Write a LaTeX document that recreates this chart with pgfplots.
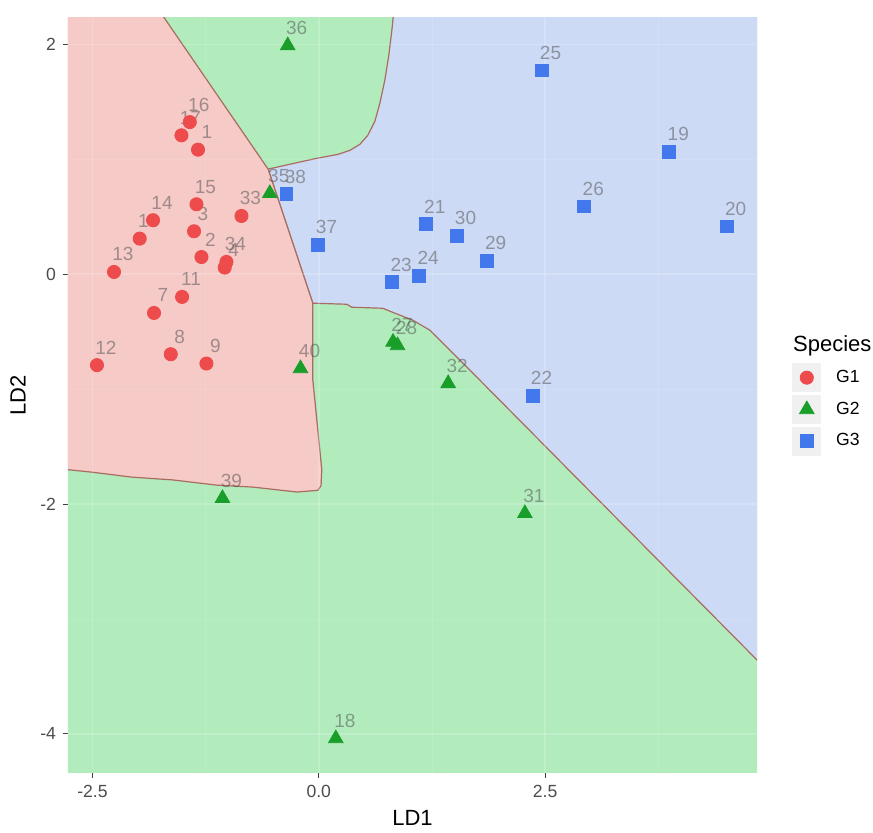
\documentclass[border=0pt]{standalone}
\usepackage{pgfplots}
\pgfplotsset{compat=1.18}
\usepackage{pgfplotstable}
\usepackage{fontspec}
\setmainfont{Liberation Sans}

\definecolor{rgred}{RGB}{245,202,199}
\definecolor{rggreen}{RGB}{178,236,189}
\definecolor{rgblue}{RGB}{205,218,245}
\definecolor{bnd}{RGB}{168,108,96}
\definecolor{ptred}{RGB}{238,76,76}
\definecolor{ptgreen}{RGB}{25,158,42}
\definecolor{ptblue}{RGB}{66,120,235}

\pgfplotstableread{
x y lab
-1.425 1.324 16
-1.517 1.209 17
-1.334 1.084 1
-1.351 0.609 15
-1.831 0.470 14
-1.978 0.310 10
-1.378 0.374 3
-1.296 0.150 2
-1.020 0.107 34
-1.039 0.058 4
-0.854 0.507 33
-2.262 0.020 13
-1.510 -0.197 11
-1.820 -0.337 7
-1.635 -0.696 8
-1.241 -0.777 9
-2.450 -0.791 12
}\gone

\pgfplotstableread{
x y lab
-0.343 1.99 36
-0.541 0.704 35
-0.202 -0.820 40
0.82 -0.59 27
0.87 -0.62 28
1.429 -0.950 32
2.276 -2.081 31
-1.064 -1.950 39
0.188 -4.04 18
}\gtwo

\pgfplotstableread{
x y lab
2.460 1.774 25
3.871 1.064 19
2.932 0.591 26
4.505 0.417 20
1.182 0.435 21
1.521 0.333 30
1.853 0.116 29
1.109 -0.011 24
0.810 -0.070 23
-0.357 0.696 38
-0.014 0.258 37
2.361 -1.058 22
}\gthree

\begin{document}
\begin{tikzpicture}
\begin{axis}[
  name=ax,
  scale only axis, width=344.5pt, height=377.5pt,
  xmin=-2.77, xmax=4.84, ymin=-4.34, ymax=2.23,
  xtick={-2.5,0,2.5}, xticklabels={-2.5,0.0,2.5},
  ytick={-4,-2,0,2}, yticklabels={-4,-2,0,2},
  xtick pos=left, ytick pos=left,
  tick align=outside, major tick length=2.5pt,
  tick style={color=black!75, line width=0.5pt},
  axis line style={draw=none},
  ticklabel style={font=\fontsize{8.8}{10}\selectfont, text=black!70},
  xlabel={LD1}, ylabel={LD2},
  label style={font=\fontsize{11}{13}\selectfont},
  xlabel style={at={(axis description cs:0.5,-0.0596)}, anchor=center},
  ylabel style={at={(axis description cs:-0.0726,0.5)}, anchor=center},
  legend style={at={(axis description cs:1,0.5)}, anchor=west, xshift=17.5pt,
    draw=none, fill=none, inner sep=0pt, row sep=1.5pt,
    font=\fontsize{8.8}{10}\selectfont,
    nodes={inner sep=0pt, text=black},
    /tikz/every odd column/.append style={column sep=7.5pt}},
  legend cell align=left,
  legend image code/.code={\fill[black!6] (0pt,-7pt) rectangle (14pt,7pt);
    \draw[#1] plot coordinates {(7pt,0pt)};},
]
% background (lower/upper G2 region)
\addplot[fill=rggreen, draw=none, forget plot] coordinates {(-3,-5) (5,-5) (5,3) (-3,3)} -- cycle;
% G3 region
\addplot[fill=rgblue, draw=bnd, line width=0.6pt, forget plot] coordinates {
(5,2.4) (0.84,2.4) (0.829,2.296) (0.807,2.122) (0.773,1.904) (0.729,1.687) (0.674,1.487)
(0.619,1.330) (0.541,1.209) (0.453,1.130) (0.343,1.078) (0.210,1.043) (-0.022,1.009)
(-0.320,0.957) (-0.56,0.915) (-0.066,-0.252)
(0.309,-0.261) (0.365,-0.287) (0.707,-0.296) (0.840,-0.339) (1.039,-0.4) (1.227,-0.487)
(1.779,-0.922) (5,-3.484)} -- cycle;
% G1 region
\addplot[fill=rgred, draw=bnd, line width=0.6pt, forget plot] coordinates {
(-2.9,2.4) (-1.854,2.4) (-0.56,0.915) (-0.066,-0.252) (-0.066,-0.92) (0.033,-1.70)
(0.025,-1.84) (-0.01,-1.88) (-0.24,-1.895) (-0.73,-1.852) (-1.13,-1.835) (-1.61,-1.79)
(-2.07,-1.765) (-2.51,-1.722) (-2.9,-1.69)} -- cycle;
% faint grid
\pgfplotsinvokeforeach{-2.5,0,2.5}{\addplot[white, opacity=0.18, line width=0.8pt, forget plot] coordinates {(#1,-5) (#1,3)};}
\pgfplotsinvokeforeach{-1.25,1.25,3.75}{\addplot[white, opacity=0.1, line width=0.4pt, forget plot] coordinates {(#1,-5) (#1,3)};}
\pgfplotsinvokeforeach{-4,-2,0,2}{\addplot[white, opacity=0.18, line width=0.8pt, forget plot] coordinates {(-3,#1) (5,#1)};}
\pgfplotsinvokeforeach{-3,-1,1}{\addplot[white, opacity=0.1, line width=0.4pt, forget plot] coordinates {(-3,#1) (5,#1)};}
% labels
\pgfplotsset{lblstyle/.style={only marks, mark=none, forget plot, point meta=explicit symbolic,
  nodes near coords, every node near coord/.append style={anchor=center, xshift=4.5pt, yshift=8.8pt,
  font=\fontsize{9.5}{10}\selectfont, text=black!70, text opacity=0.5}}}
\addplot[lblstyle] table[x=x, y=y, meta=lab] {\gone};
\addplot[lblstyle] table[x=x, y=y, meta=lab] {\gtwo};
\addplot[lblstyle] table[x=x, y=y, meta=lab] {\gthree};
% legend title
\addlegendimage{empty legend}
\addlegendentry{\hspace*{-21.5pt}\raisebox{3pt}{\fontsize{11}{13}\selectfont Species}}
% points
\addplot[only marks, mark=*, mark size=3.3pt, mark options={draw=ptred, fill=ptred}] table[x=x, y=y] {\gone};
\addlegendentry{G1}
\addplot[only marks, mark=triangle*, mark size=4.2pt, mark options={draw=ptgreen, fill=ptgreen}] table[x=x, y=y] {\gtwo};
\addlegendentry{G2}
\addplot[only marks, mark=square*, mark size=3.2pt, mark options={draw=ptblue, fill=ptblue}] table[x=x, y=y] {\gthree};
\addlegendentry{G3}
\end{axis}
\path (ax.south west) ++(-34pt,-26.5pt) rectangle ([shift={(58pt,9pt)}]ax.north east);
\end{tikzpicture}
\end{document}
